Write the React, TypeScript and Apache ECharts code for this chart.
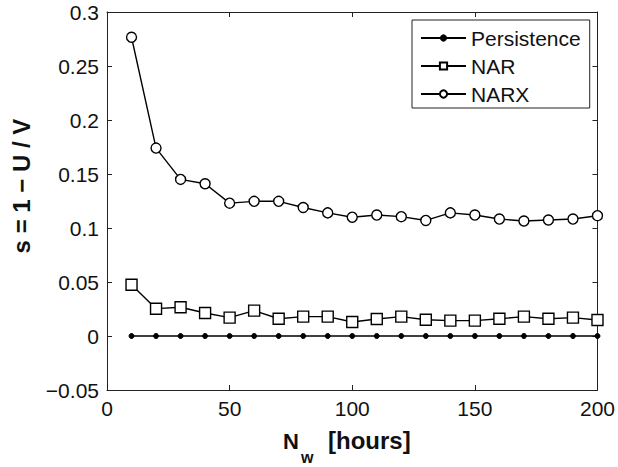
import React, { useEffect, useRef } from "react";
import * as echarts from "echarts";

const windows = [10, 20, 30, 40, 50, 60, 70, 80, 90, 100, 110, 120, 130, 140, 150, 160, 170, 180, 190, 200];
const persistence = [0, 0, 0, 0, 0, 0, 0, 0, 0, 0, 0, 0, 0, 0, 0, 0, 0, 0, 0, 0];
const nar = [0.0475, 0.0253, 0.0266, 0.0213, 0.017, 0.0235, 0.016, 0.0179, 0.0179, 0.013, 0.0157, 0.0179, 0.0151, 0.0142, 0.0142, 0.016, 0.0179, 0.016, 0.017, 0.0148];
const narx = [0.2766, 0.174, 0.145, 0.141, 0.123, 0.1247, 0.1247, 0.119, 0.114, 0.11, 0.112, 0.1105, 0.107, 0.114, 0.112, 0.1083, 0.1065, 0.1074, 0.1083, 0.1114];
const seriesNames = ["Persistence", "NAR", "NARX"];
const xTicks = { min: 0, max: 200, interval: 50 };
const yTicks = { min: -0.05, max: 0.3, interval: 0.05 };

const FONT = "'Liberation Sans', Arial, Helvetica, sans-serif";

export default function App() {
  const ref = useRef<HTMLDivElement>(null);
  useEffect(() => {
    if (!ref.current) return;
    const chart = echarts.init(ref.current, null, { renderer: "svg" });
    const pts = (vals: number[]) => windows.map((x, i) => [x, vals[i]]);
    const axisCommon = {
      axisLine: { show: true, onZero: false, lineStyle: { color: "#222", width: 1 } },
      axisTick: { show: true, inside: true, length: 5, lineStyle: { color: "#222" } },
      splitLine: { show: false },
    };
    const yFmt = (v: number) => {
      const r = Math.round(v * 1000) / 1000;
      return String(r).replace("-", "\u2212");
    };
    chart.setOption({
      animation: false,
      backgroundColor: "#fff",
      grid: { left: 107, right: 19, top: 12, bottom: 77, containLabel: false },
      xAxis: [
        {
          type: "value", position: "bottom", ...xTicks, ...axisCommon,
          axisLabel: { color: "#111", fontSize: 21, fontFamily: FONT, margin: 8 },
        },
        {
          type: "value", position: "top", ...xTicks, ...axisCommon,
          axisLabel: { show: false },
        },
      ],
      yAxis: [
        {
          type: "value", position: "left", ...yTicks, ...axisCommon,
          axisLabel: { color: "#111", fontSize: 21, fontFamily: FONT, margin: 8, formatter: yFmt },
        },
        {
          type: "value", position: "right", ...yTicks, ...axisCommon,
          axisLabel: { show: false },
        },
      ],
      legend: {
        left: 412, top: 20, orient: "vertical",
        data: seriesNames,
        itemWidth: 45, itemHeight: 9, itemGap: 6,
        borderColor: "#222", borderWidth: 1, borderRadius: 0,
        padding: [7, 9, 3, 8],
        backgroundColor: "#fff",
        textStyle: { fontSize: 21, fontFamily: FONT, color: "#111", lineHeight: 22 },
      },
      series: [
        {
          name: seriesNames[0], type: "line", data: pts(persistence),
          symbol: "circle", symbolSize: 5,
          lineStyle: { color: "#000", width: 1.4 },
          itemStyle: { color: "#000", borderColor: "#000" },
        },
        {
          name: seriesNames[1], type: "line", data: pts(nar),
          symbol: "rect", symbolSize: 11,
          lineStyle: { color: "#000", width: 1.4 },
          itemStyle: { color: "#fff", borderColor: "#000", borderWidth: 1.4 },
        },
        {
          name: seriesNames[2], type: "line", data: pts(narx),
          symbol: "circle", symbolSize: 10,
          lineStyle: { color: "#000", width: 1.4 },
          itemStyle: { color: "#fff", borderColor: "#000", borderWidth: 1.4 },
        },
      ],
      graphic: [
        {
          type: "text", x: 21, y: 186, rotation: Math.PI / 2,
          style: {
            text: "s = 1 \u2212 U / V", fontSize: 24, fontWeight: "bold", fontFamily: FONT,
            fill: "#111", align: "center", verticalAlign: "middle",
          },
        },
        {
          type: "text", x: 283, y: 452,
          style: { text: "N", fontSize: 22, fontWeight: "bold", fontFamily: FONT, fill: "#111", align: "left", verticalAlign: "bottom" },
        },
        {
          type: "text", x: 301, y: 465,
          style: { text: "w", fontSize: 16, fontWeight: "bold", fontFamily: FONT, fill: "#111", align: "left", verticalAlign: "bottom" },
        },
        {
          type: "text", x: 328, y: 452,
          style: { text: "[hours]", fontSize: 24, fontWeight: "bold", fontFamily: FONT, fill: "#111", align: "left", verticalAlign: "bottom" },
        },
      ],
    });
    return () => chart.dispose();
  }, []);
  return <div ref={ref} style={{ position: "absolute", left: 0, top: 0, width: 618, height: 467 }} />;
}
